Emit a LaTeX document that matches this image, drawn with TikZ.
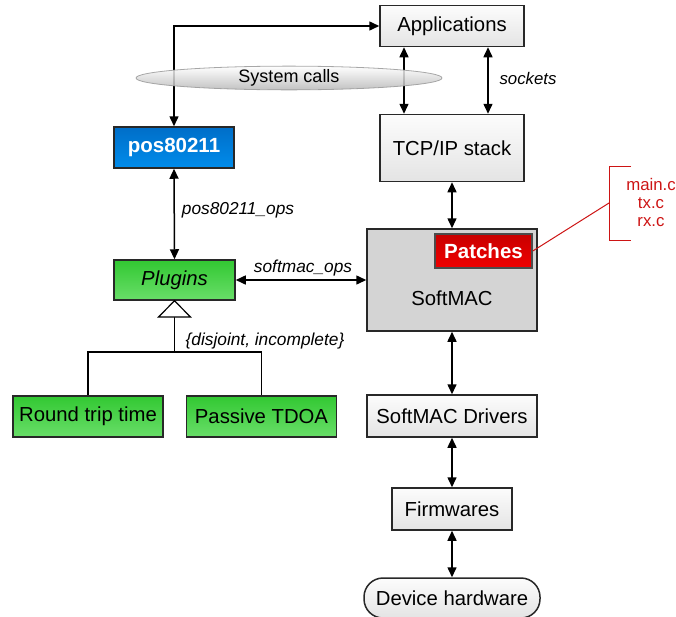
\documentclass[tikz,border=0pt]{standalone}
\usepackage{fontspec}
\setmainfont{Liberation Sans}
\usetikzlibrary{arrows.meta,shapes.geometric,calc}
\definecolor{edgegray}{RGB}{40,40,40}
\definecolor{boxtop}{RGB}{252,252,252}
\definecolor{boxbot}{RGB}{228,228,228}
\definecolor{bluetop}{RGB}{0,110,200}
\definecolor{bluebot}{RGB}{0,140,235}
\definecolor{greentop}{RGB}{50,200,50}
\definecolor{greenbot}{RGB}{105,222,105}
\definecolor{softgray}{RGB}{212,212,212}
\definecolor{redtop}{RGB}{200,0,0}
\definecolor{redbot}{RGB}{240,0,0}
\definecolor{annot}{RGB}{205,20,20}
\tikzset{
  box/.style={draw=edgegray,line width=1.5pt,top color=boxtop,bottom color=boxbot,
    inner sep=0pt,font=\fontsize{20.3}{23}\selectfont},
  bluebox/.style={box,top color=bluetop,bottom color=bluebot,text=white,font=\fontsize{20.5}{23}\selectfont\bfseries},
  greenbox/.style={box,top color=greentop,bottom color=greenbot},
  conn/.style={line width=1.5pt,-{Triangle[width=9pt,length=10pt]}},
  dconn/.style={line width=1.5pt,{Triangle[width=9pt,length=10pt]}-{Triangle[width=9pt,length=10pt]}},
  lbl/.style={font=\fontsize{17.3}{20}\selectfont\itshape},
  redtxt/.style={text=annot,font=\fontsize{16.8}{19}\selectfont,inner sep=0pt}
}
\begin{document}
\begin{tikzpicture}[x=1pt,y=-1pt]
\useasboundingbox (0,0) rectangle (676,616);
% nodes
\node[box,minimum width=144pt,minimum height=41pt] (app) at (452,26) {Applications};
\node[box,minimum width=144pt,minimum height=67pt] (tcp) at (452,148) {TCP/IP stack};
\node[bluebox,minimum width=120pt,minimum height=41pt] (pos) at (174,147.5) {pos80211};
\node[greenbox,minimum width=121pt,minimum height=40pt,font=\fontsize{20.3}{23}\selectfont\itshape] (plug) at (174.5,280) {Plugins};
\node[draw=edgegray,line width=1.5pt,fill=softgray,minimum width=170pt,minimum height=102pt,inner sep=0pt] (soft) at (452,280) {};
\node[font=\fontsize{20.3}{23}\selectfont] (softlbl) at (452,298) {SoftMAC};
\node[draw=black!70,line width=1.5pt,top color=redtop,bottom color=redbot,text=white,
  font=\fontsize{20.5}{23}\selectfont\bfseries,minimum width=97pt,minimum height=34pt,inner sep=0pt] (patch) at (483.5,251) {Patches};
\node[box,minimum width=170pt,minimum height=42pt] (drv) at (452,416) {SoftMAC Drivers};
\node[box,minimum width=120pt,minimum height=42pt] (fw) at (452,509) {Firmwares};
\node[box,rounded corners=19pt,minimum width=176pt,minimum height=40pt] (dev) at (452,598) {Device hardware};
\node[greenbox,minimum width=150pt,minimum height=41pt] (rtt) at (88,416.5) {Round trip time};
\node[greenbox,minimum width=150pt,minimum height=41pt] (tdoa) at (261.5,416.5) {Passive TDOA};
% connectors
\draw[dconn] (pos.north) |- (app.west);
\draw[dconn] ([xshift=-48pt]app.south) -- ([xshift=-48pt]tcp.north);
\draw[dconn] ([xshift=36pt]app.south) -- ([xshift=36pt]tcp.north);
\node[lbl,font=\fontsize{16.8}{19}\selectfont\itshape] (sock) at (528,78) {sockets};
\draw[dconn] (tcp.south) -- (soft.north);
\draw[dconn] (soft.south) -- (drv.north);
\draw[dconn] (drv.south) -- (fw.north);
\draw[dconn] (fw.south) -- (dev.north);
\draw[dconn] (pos.south) -- (plug.north);
\node[lbl] (posops) at (238,210) {pos80211\_ops};
\draw[dconn] (plug.east) -- (soft.west);
\node[lbl] (smops) at (303,268) {softmac\_ops};
% system calls ellipse
\node[ellipse,draw=black!40,line width=0.8pt,top color=white,bottom color=black!28,opacity=0.85,text opacity=1,
  minimum width=306pt,minimum height=22pt,inner sep=0pt,font=\fontsize{18}{20}\selectfont] (sys) at (289,78) {System calls};
% generalization
\coordinate (tri) at (174.5,317);
\coordinate (fork) at (174.5,352);
\draw[line width=1.5pt] (tri) -- (fork);
\draw[line width=1.5pt] (rtt.north) |- (fork) -| (tdoa.north);
\draw[line width=1.2pt,fill=white] (plug.south) -- (158.5,317) -- (190.5,317) -- cycle;
\node[lbl] (disj) at (265,341) {\{disjoint, incomplete\}};
% annotation
\coordinate (brtop) at (609,166);
\coordinate (brbot) at (609,240);
\coordinate (brmid) at (609,203);
\draw[annot,line width=1pt] (631,166) -- (brtop) -- (brbot) -- (631,240);
\draw[annot,line width=1pt] (patch.east) -- (brmid);
\node[redtxt] (f1) at (651,184) {main.c};
\node[redtxt] (f2) at (651,203) {tx.c};
\node[redtxt] (f3) at (651,222) {rx.c};
\end{tikzpicture}
\end{document}
